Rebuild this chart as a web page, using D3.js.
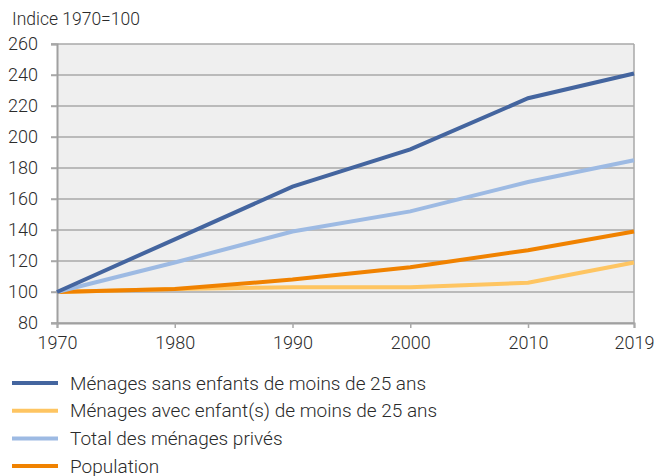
<!DOCTYPE html>
<html>
<head>
<meta charset="utf-8">
<script src="https://cdn.jsdelivr.net/npm/d3@7"></script>
<style>
  body { margin: 0; background: #fff; }
  text { font-family: Roboto, "Open Sans", sans-serif; font-weight: 300; fill: #2b2b2b; }
</style>
</head>
<body>
<div id="chart"></div>
<script>
var years = [1970, 1980, 1990, 2000, 2010, 2019];
var sansEnfants = [100, 134, 168, 192, 225, 241];
var avecEnfants = [100, 102, 103, 103, 106, 119];
var totalMenages = [100, 119, 139, 152, 171, 185];
var population = [100, 102, 108, 116, 127, 139];
var yTicks = [80, 100, 120, 140, 160, 180, 200, 220, 240, 260];

var series = [
  { name: 'Ménages sans enfants de moins de 25 ans', values: sansEnfants, color: '#44659f' },
  { name: 'Ménages avec enfant(s) de moins de 25 ans', values: avecEnfants, color: '#fec562' },
  { name: 'Total des ménages privés', values: totalMenages, color: '#9dbae3' },
  { name: 'Population', values: population, color: '#f08200' }
];
// draw order: lighter lines under darker ones, as in the picture
var drawOrder = [1, 3, 2, 0];

var W = 668, H = 476;
var m = { left: 57, right: 34, top: 44, bottom: 153 };

var svg = d3.select('#chart').append('svg')
  .attr('width', W).attr('height', H);

var x = d3.scaleLinear().domain([1970, 2019]).range([m.left, W - m.right]);
var y = d3.scaleLinear().domain([80, 260]).range([H - m.bottom, m.top]);

svg.append('rect')
  .attr('x', x(1970)).attr('y', y(260))
  .attr('width', x(2019) - x(1970)).attr('height', y(80) - y(260))
  .attr('fill', '#efefef');

// horizontal grid
svg.append('g').selectAll('line').data(yTicks).enter().append('line')
  .attr('x1', x(1970) - 6).attr('x2', x(2019))
  .attr('y1', function(d){ return y(d) }).attr('y2', function(d){ return y(d) })
  .attr('stroke', '#a8a8a8').attr('stroke-width', 1.5);

// right border
svg.append('line')
  .attr('x1', x(2019)).attr('x2', x(2019))
  .attr('y1', y(260)).attr('y2', y(80))
  .attr('stroke', '#a8a8a8').attr('stroke-width', 1.5);

// axes
var yAxis = svg.append('g')
  .attr('transform', 'translate(' + x(1970) + ',0)')
  .call(d3.axisLeft(y).tickValues(yTicks).tickSize(6).tickPadding(13));
var xAxis = svg.append('g')
  .attr('transform', 'translate(0,' + y(80) + ')')
  .call(d3.axisBottom(x).tickValues(years).tickFormat(d3.format('d')).tickSize(5).tickPadding(8));

[yAxis, xAxis].forEach(function(ax){
  ax.select('.domain').attr('stroke', '#a0a0a0').attr('stroke-width', 2);
  ax.selectAll('.tick line').attr('stroke', '#a8a8a8').attr('stroke-width', 1.5);
  ax.selectAll('.tick text').attr('font-size', 18).attr('fill', '#2b2b2b')
    .attr('font-family', 'Roboto, sans-serif').attr('font-weight', 300);
});

svg.append('text')
  .attr('x', 12).attr('y', 25)
  .attr('font-size', 17.5)
  .text('Indice 1970=100');

var line = d3.line()
  .x(function(d, i){ return x(years[i]) })
  .y(function(d){ return y(d) });

drawOrder.forEach(function(k){
  var s = series[k];
  svg.append('path')
    .datum(s.values)
    .attr('d', line)
    .attr('fill', 'none')
    .attr('stroke', s.color)
    .attr('stroke-width', 4);
});

// legend
var leg = svg.append('g').selectAll('g').data(series).enter().append('g')
  .attr('transform', function(d, i){ return 'translate(12,' + (383 + i * 27.7) + ')' });
leg.append('line')
  .attr('x1', 0).attr('x2', 46)
  .attr('stroke', function(d){ return d.color })
  .attr('stroke-width', 4);
leg.append('text')
  .attr('x', 58).attr('dy', '0.35em')
  .attr('font-size', 19)
  .text(function(d){ return d.name });
</script>
</body>
</html>
